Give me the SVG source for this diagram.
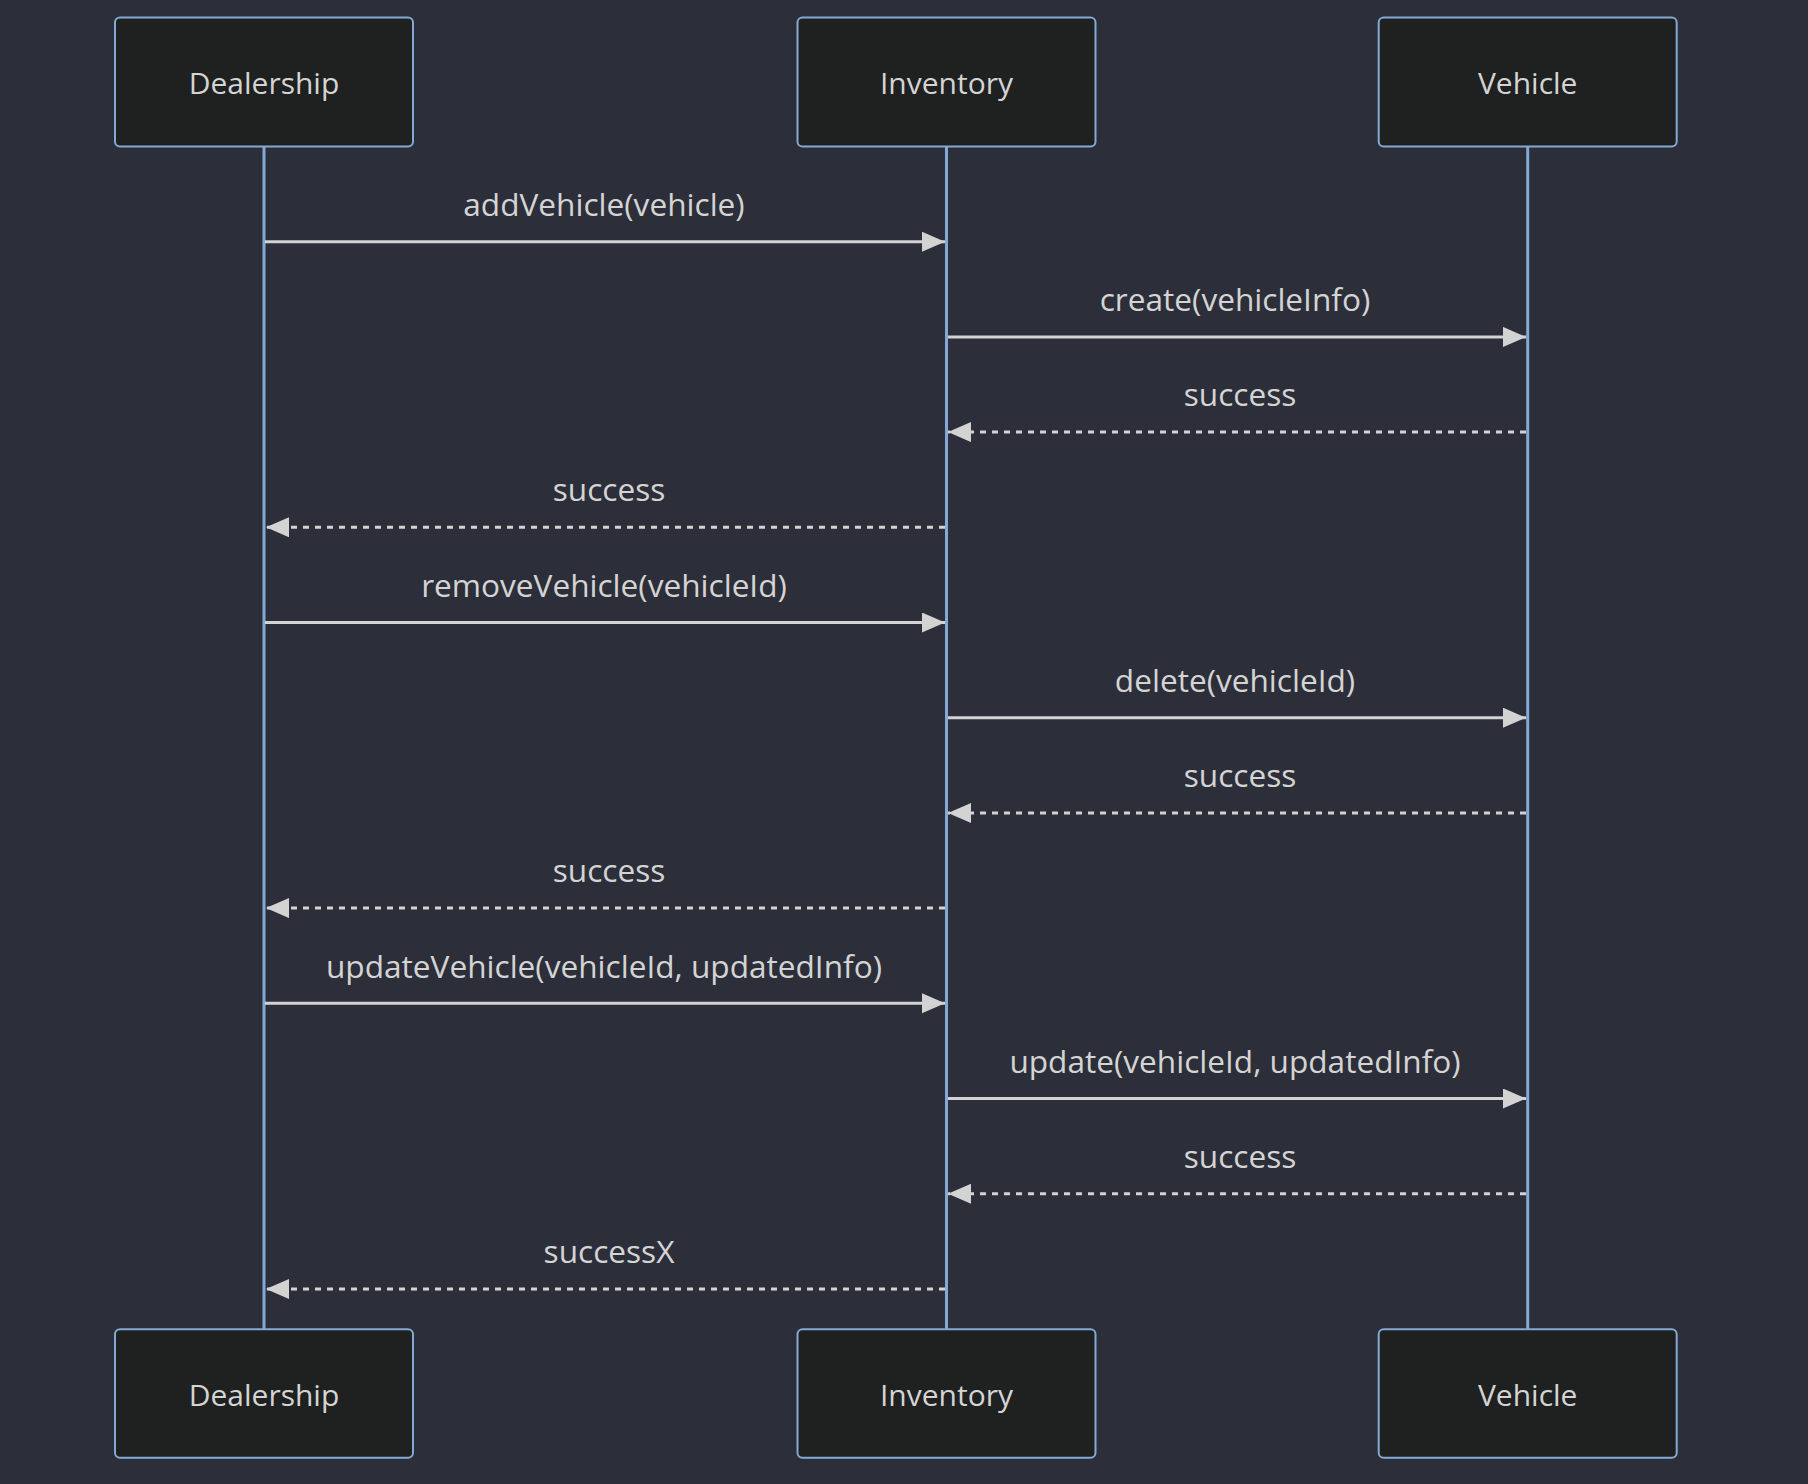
<svg xmlns="http://www.w3.org/2000/svg" width="1808" height="1484" viewBox="0 0 1808 1484">
  <style>
    .bg { fill: #2c2f3a; }
    .actor rect { fill: #1f2020; stroke: #84a9d6; stroke-width: 2; }
    .actor text { fill: #d4d4d4; font-family: "Open Sans", Lato, "Liberation Sans", sans-serif; font-size: 30px; text-anchor: middle; }
    .lifeline { stroke: #84a9d6; stroke-width: 3; }
    .msg { stroke: #d3d3d3; stroke-width: 3; fill: none; marker-end: url(#head); }
    .dash { stroke-dasharray: 6 6; }
    .label { fill: #d4d4d4; font-family: "Open Sans", Lato, "Liberation Sans", sans-serif; font-size: 31.6px; text-anchor: middle; }
  </style>
  <defs>
    <marker id="head" markerUnits="userSpaceOnUse" markerWidth="24" markerHeight="21" refX="23" refY="10" orient="auto">
      <path d="M0,0 L23,10 L0,20 Z" fill="#d3d3d3"/>
    </marker>
  </defs>

  <rect class="bg" x="0" y="0" width="1808" height="1484"/>

  <!-- lifelines -->
  <g id="lifelines">
    <line class="lifeline" x1="264" y1="146" x2="264" y2="1330"/>
    <line class="lifeline" x1="946.5" y1="146" x2="946.5" y2="1330"/>
    <line class="lifeline" x1="1527.7" y1="146" x2="1527.7" y2="1330"/>
  </g>

  <!-- messages -->
  <g id="connectors">
    <line class="msg" x1="265" y1="241.7" x2="945" y2="241.7"/>
    <text class="label" x="604" y="216">addVehicle(vehicle)</text>

    <line class="msg" x1="948" y1="336.9" x2="1526" y2="336.9"/>
    <text class="label" x="1235" y="311">create(vehicleInfo)</text>

    <line class="msg dash" x1="1526" y1="432.1" x2="948" y2="432.1"/>
    <text class="label" x="1240" y="406">success</text>

    <line class="msg dash" x1="945" y1="527.3" x2="266" y2="527.3"/>
    <text class="label" x="609" y="501">success</text>

    <line class="msg" x1="265" y1="622.5" x2="945" y2="622.5"/>
    <text class="label" x="604" y="597">removeVehicle(vehicleId)</text>

    <line class="msg" x1="948" y1="717.7" x2="1526" y2="717.7"/>
    <text class="label" x="1235" y="692">delete(vehicleId)</text>

    <line class="msg dash" x1="1526" y1="812.9" x2="948" y2="812.9"/>
    <text class="label" x="1240" y="787">success</text>

    <line class="msg dash" x1="945" y1="908.1" x2="266" y2="908.1"/>
    <text class="label" x="609" y="882">success</text>

    <line class="msg" x1="265" y1="1003.3" x2="945" y2="1003.3"/>
    <text class="label" x="604" y="978">updateVehicle(vehicleId, updatedInfo)</text>

    <line class="msg" x1="948" y1="1098.5" x2="1526" y2="1098.5"/>
    <text class="label" x="1235" y="1073">update(vehicleId, updatedInfo)</text>

    <line class="msg dash" x1="1526" y1="1193.7" x2="948" y2="1193.7"/>
    <text class="label" x="1240" y="1168">success</text>

    <line class="msg dash" x1="945" y1="1288.9" x2="266" y2="1288.9"/>
    <text class="label" x="609" y="1263">successX</text>
  </g>

  <!-- participants, top row -->
  <g id="dealership-top" class="actor">
    <rect x="115" y="17.5" width="298" height="129" rx="5"/>
    <text x="264" y="93.5">Dealership</text>
  </g>
  <g id="inventory-top" class="actor">
    <rect x="797.5" y="17.5" width="298" height="129" rx="5"/>
    <text x="946.5" y="93.5">Inventory</text>
  </g>
  <g id="vehicle-top" class="actor">
    <rect x="1378.7" y="17.5" width="298" height="129" rx="5"/>
    <text x="1527.7" y="93.5">Vehicle</text>
  </g>

  <!-- participants, bottom row -->
  <g id="dealership-bottom" class="actor">
    <rect x="115" y="1329.3" width="298" height="128.5" rx="5"/>
    <text x="264" y="1405.5">Dealership</text>
  </g>
  <g id="inventory-bottom" class="actor">
    <rect x="797.5" y="1329.3" width="298" height="128.5" rx="5"/>
    <text x="946.5" y="1405.5">Inventory</text>
  </g>
  <g id="vehicle-bottom" class="actor">
    <rect x="1378.7" y="1329.3" width="298" height="128.5" rx="5"/>
    <text x="1527.7" y="1405.5">Vehicle</text>
  </g>
</svg>
